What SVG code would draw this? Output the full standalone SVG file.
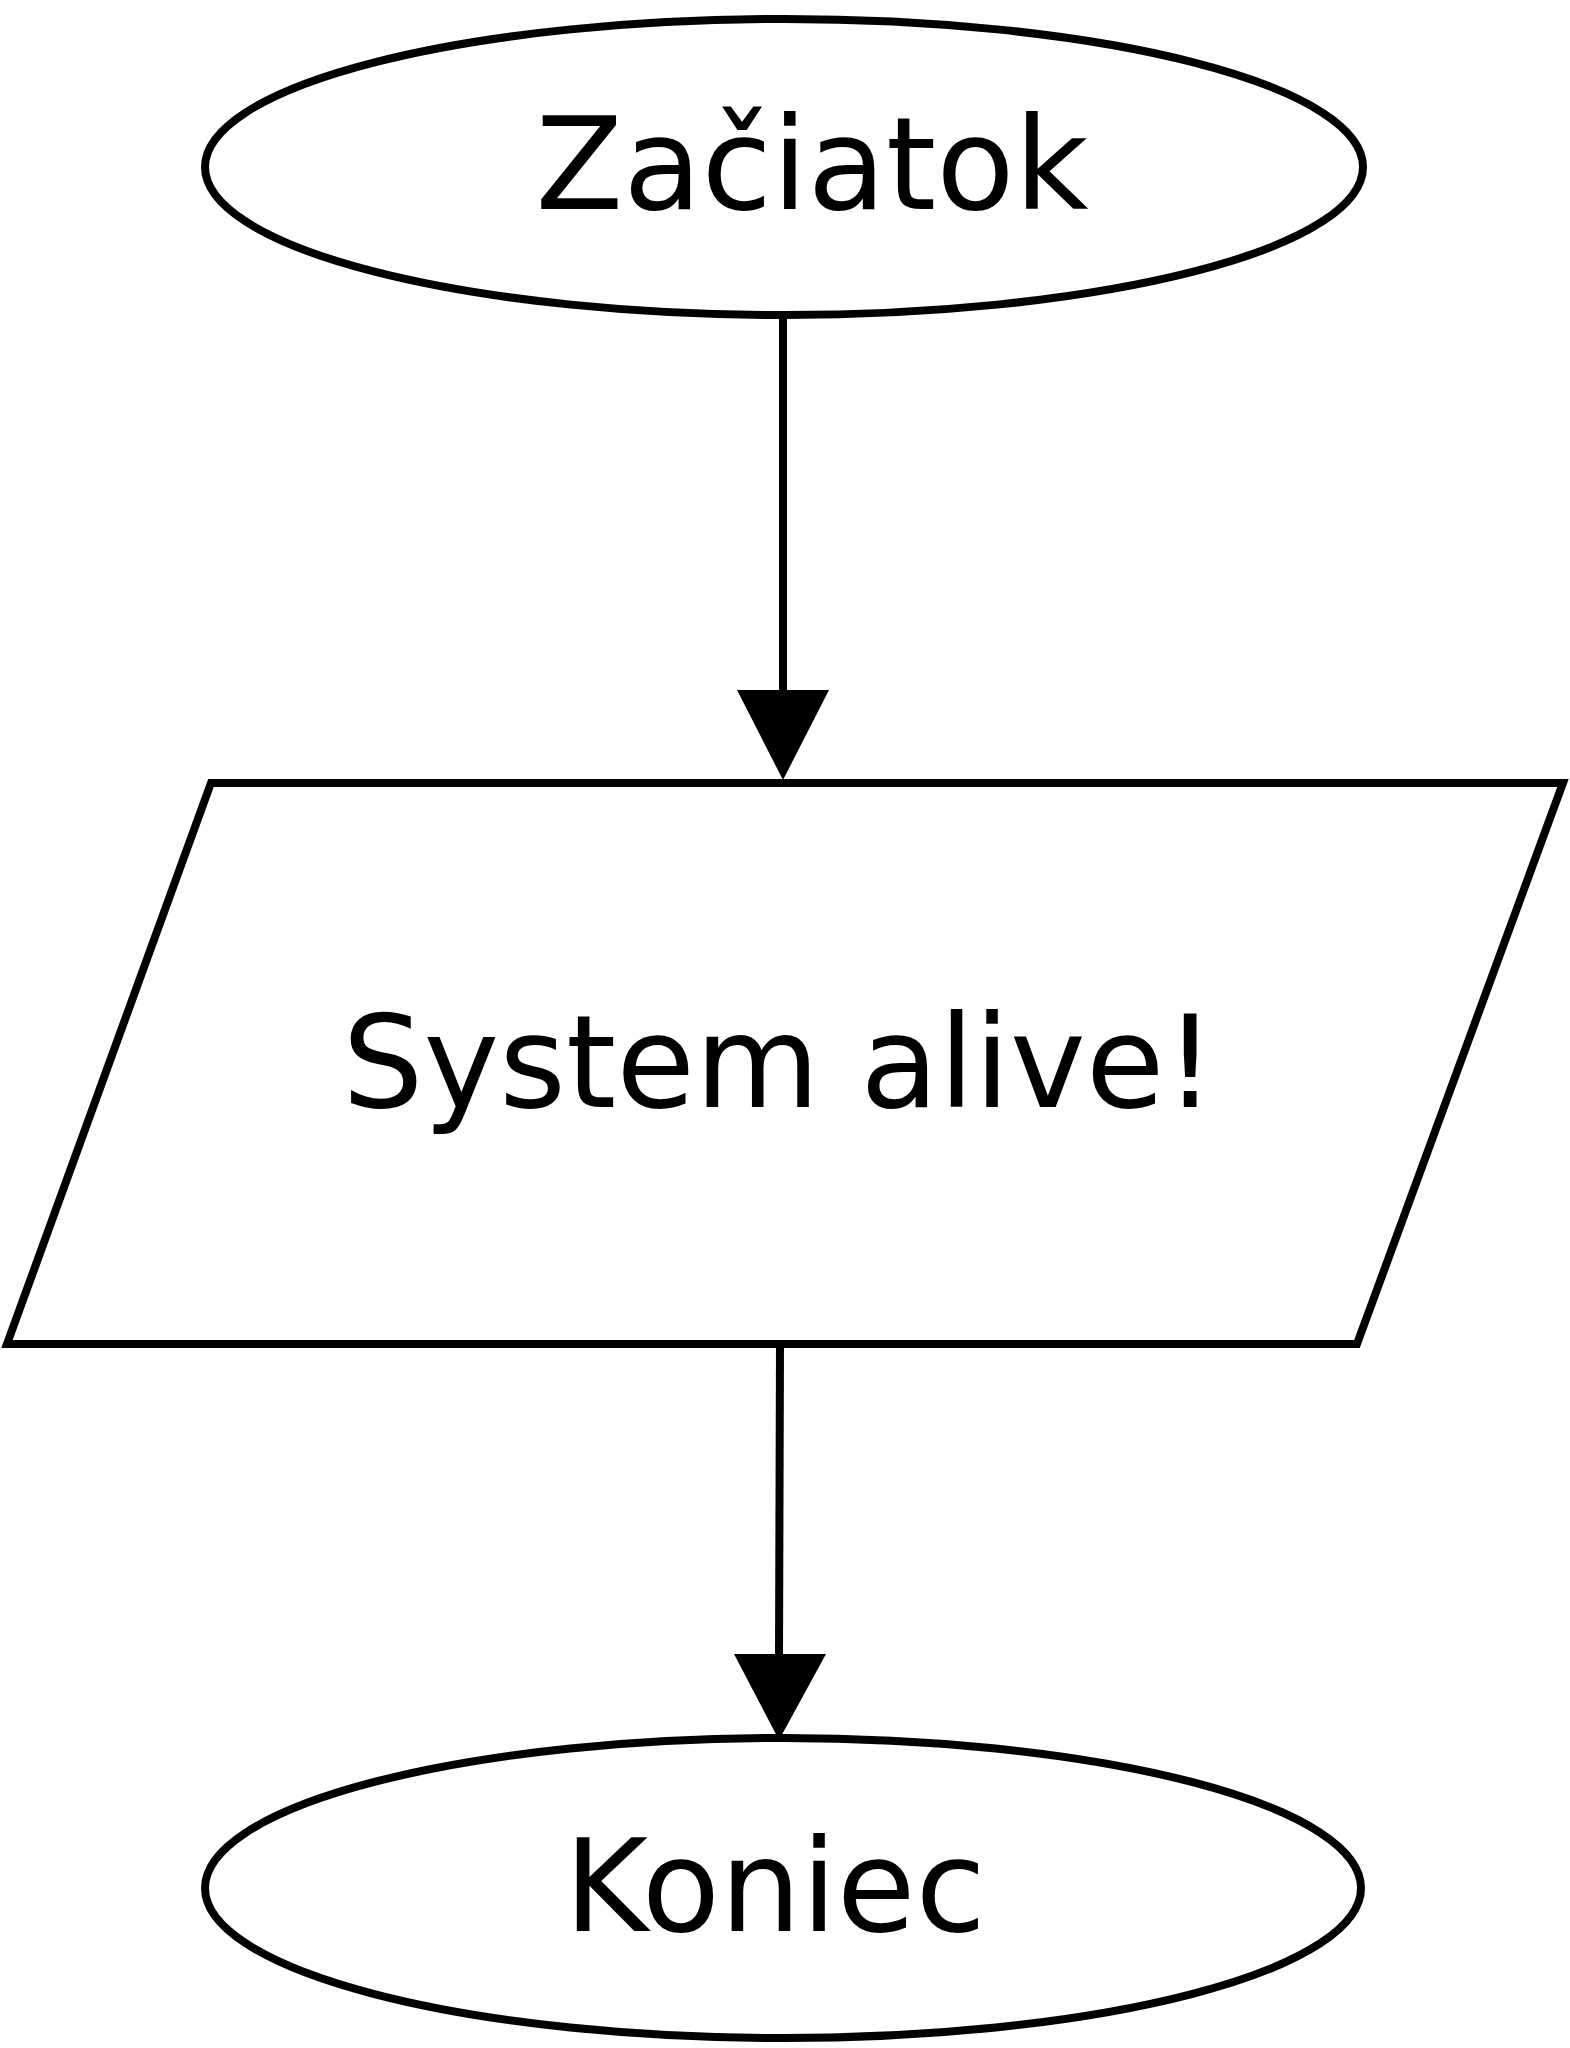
<svg xmlns="http://www.w3.org/2000/svg" width="1570" height="2048" viewBox="0 0 1570 2048">
<style>
.s{fill:#fff;stroke:#000;stroke-width:8}
.t{font-family:"DejaVu Sans",sans-serif;font-size:128px;text-anchor:middle;fill:#000}
.c{stroke:#000;stroke-width:8;fill:none}
</style>
<rect width="1570" height="2048" fill="#fff"/>
<g id="start"><ellipse class="s" cx="784" cy="167" rx="579" ry="148"/><text class="t" x="812" y="209">Začiatok</text></g>
<g id="io"><polygon class="s" points="211,783 1563,783 1357,1344 7,1344"/><text class="t" x="779" y="1107">System alive!</text></g>
<g id="end"><ellipse class="s" cx="783" cy="1888" rx="578" ry="150"/><text class="t" x="775" y="1931">Koniec</text></g>
<g id="connectors">
<line class="c" x1="783" y1="316" x2="783" y2="694"/>
<polygon points="737,690 829,690 783,780" fill="#000"/>
<line class="c" x1="780" y1="1344" x2="779" y2="1658"/>
<polygon points="734,1654 826,1654 779,1740" fill="#000"/>
</g>
</svg>
